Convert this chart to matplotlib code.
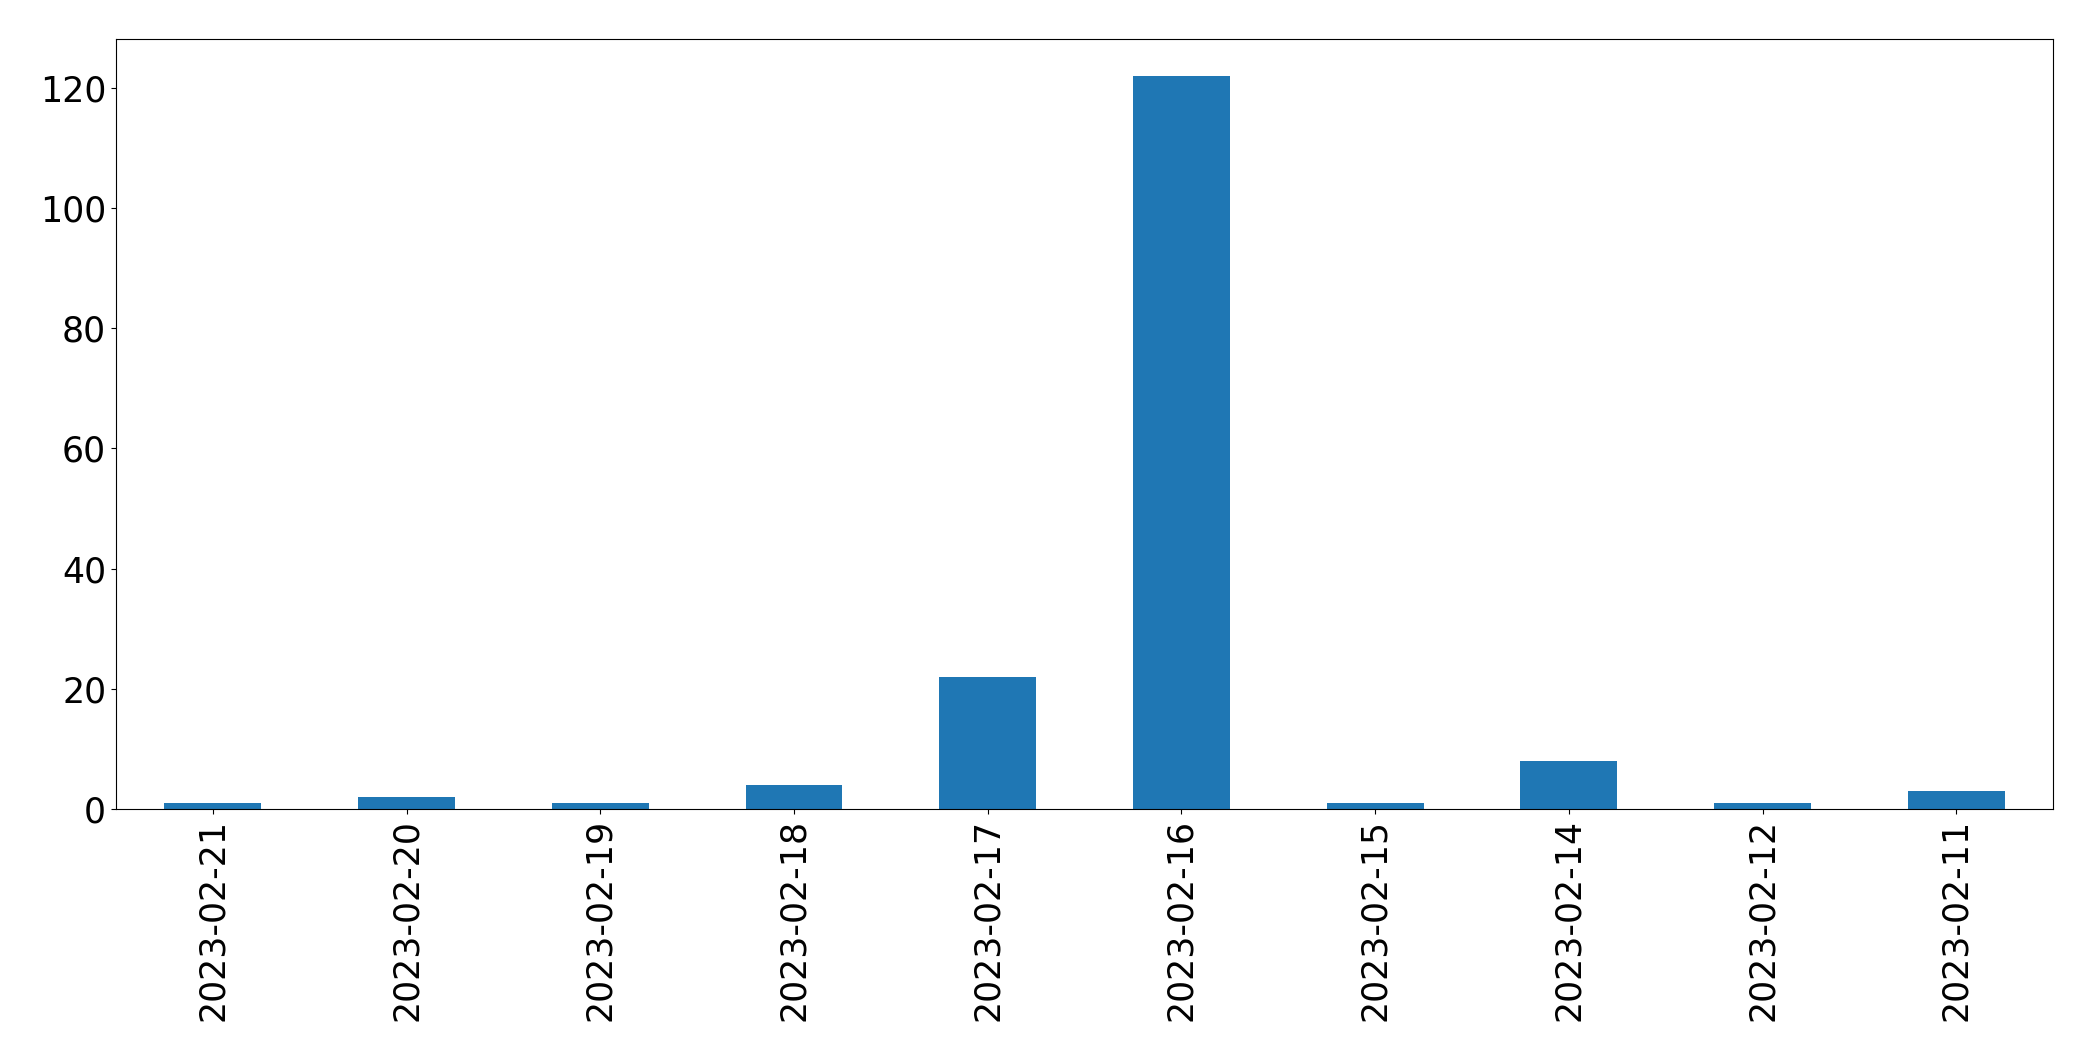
import matplotlib
matplotlib.use("Agg")
import matplotlib.pyplot as plt

dates = ["2023-02-21", "2023-02-20", "2023-02-19", "2023-02-18", "2023-02-17",
         "2023-02-16", "2023-02-15", "2023-02-14", "2023-02-12", "2023-02-11"]
counts = [1, 2, 1, 4, 22, 122, 1, 8, 1, 3]

fig = plt.figure(figsize=(20.93, 10.61), dpi=100)
ax = fig.add_axes([0.0554, 0.2375, 0.9256, 0.7255])
x = range(len(dates))
ax.bar(x, counts, width=0.5, color="#1f77b4")
ax.set_xlim(-0.5, len(dates) - 0.5)
ax.set_xticks(list(x))
ax.set_xticklabels(dates, rotation=90, fontsize=25)
ax.tick_params(axis="y", labelsize=25)
fig.savefig("out.png", dpi=100)
